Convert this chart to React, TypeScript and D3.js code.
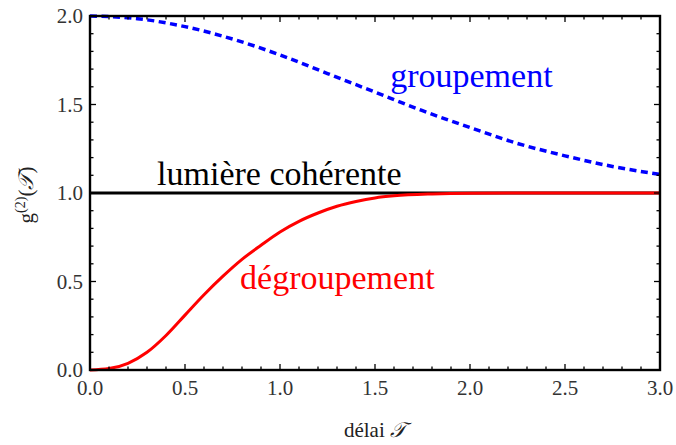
import React from "react";
import * as d3 from "d3";

// Data
const tBlue = [0, 0.25, 0.5, 0.75, 1.0, 1.25, 1.5, 1.75, 2.0, 2.25, 2.5, 2.75, 3.0];
const gBlue = [2.0, 1.985, 1.94, 1.87, 1.78, 1.675, 1.57, 1.465, 1.37, 1.28, 1.21, 1.15, 1.105];

const tRed = [0, 0.1, 0.2, 0.3, 0.4, 0.5, 0.6, 0.7, 0.8, 0.9, 1.0, 1.1, 1.2, 1.3, 1.4, 1.5, 1.6, 1.8, 2.0, 2.5, 3.0];
const gRed = [0, 0.008, 0.038, 0.1, 0.195, 0.31, 0.425, 0.53, 0.625, 0.705, 0.78, 0.84, 0.887, 0.925, 0.952, 0.972, 0.984, 0.995, 0.999, 1.0, 1.0];

const tBlack = [0, 3];
const gBlack = [1, 1];

const xTicks = [0, 0.5, 1.0, 1.5, 2.0, 2.5, 3.0];
const yTicks = [0, 0.5, 1.0, 1.5, 2.0];
const xMinor = d3.range(0, 3.0001, 0.1);
const yMinor = d3.range(0, 2.0001, 0.1);

const labelNames = ["groupement", "lumière cohérente", "dégroupement"];
const labelT = [1.58, 0.353, 0.79];
const labelG = [1.6, 1.045, 0.458];
const labelColors = ["#0000ff", "#000000", "#ff0000"];

const W = 676, H = 445;
const L = 90, R = 660, T = 16, B = 370;

const FONT = '"Liberation Serif", "Times New Roman", Times, "DejaVu Serif", serif';

export default function App() {
  const x = d3.scaleLinear().domain([0, 3]).range([L, R]);
  const y = d3.scaleLinear().domain([0, 2]).range([B, T]);
  const line = d3
    .line<[number, number]>()
    .x((d) => x(d[0]))
    .y((d) => y(d[1]))
    .curve(d3.curveMonotoneX);
  const blue = line(tBlue.map((t, i) => [t, gBlue[i]]))!;
  const red = line(tRed.map((t, i) => [t, gRed[i]]))!;
  const black = line(tBlack.map((t, i) => [t, gBlack[i]]))!;
  const isMajorX = (v: number) => xTicks.some((m) => Math.abs(m - v) < 1e-6);
  const isMajorY = (v: number) => yTicks.some((m) => Math.abs(m - v) < 1e-6);
  const ts = { fontFamily: FONT };

  return (
    <svg
      width={W}
      height={H}
      style={{ position: "fixed", left: 0, top: 0, background: "#fff", fontFamily: FONT }}
    >
      <rect x={0} y={0} width={W} height={H} fill="#fff" />
      <defs>
        <clipPath id="plot">
          <rect x={L} y={T - 2} width={R - L} height={B - T + 4} />
        </clipPath>
      </defs>
      <g clipPath="url(#plot)">
        <path d={black} fill="none" stroke="#000" strokeWidth={2.8} />
        <path d={red} fill="none" stroke="#ff0000" strokeWidth={3} />
        <path d={blue} fill="none" stroke="#0000ff" strokeWidth={3.5} strokeDasharray="7,4.5" />
      </g>
      {/* ticks */}
      {xMinor.map((v, i) => {
        const len = isMajorX(v) ? 6 : 3.5;
        return (
          <g key={"xt" + i} stroke="#000" strokeWidth={1.3}>
            <line x1={x(v)} x2={x(v)} y1={B} y2={B - len} />
            <line x1={x(v)} x2={x(v)} y1={T} y2={T + len} />
          </g>
        );
      })}
      {yMinor.map((v, i) => {
        const len = isMajorY(v) ? 6 : 3.5;
        return (
          <g key={"yt" + i} stroke="#000" strokeWidth={1.3}>
            <line x1={L} x2={L + len} y1={y(v)} y2={y(v)} />
            <line x1={R} x2={R - len} y1={y(v)} y2={y(v)} />
          </g>
        );
      })}
      <rect x={L} y={T} width={R - L} height={B - T} fill="none" stroke="#000" strokeWidth={2.4} />
      {/* tick labels */}
      {xTicks.map((v) => (
        <text key={"xl" + v} style={ts} x={x(v)} y={B + 25} fontSize={21} textAnchor="middle" fill="#333">
          {v.toFixed(1)}
        </text>
      ))}
      {yTicks.map((v) => (
        <text key={"yl" + v} style={ts} x={L - 7} y={y(v) + 7} fontSize={21} textAnchor="end" fill="#333">
          {v.toFixed(1)}
        </text>
      ))}
      {/* axis labels */}
      <text style={ts} x={(L + R) / 2} y={437} fontSize={21} textAnchor="middle" fill="#222">
        délai <tspan fontStyle="italic">𝒯</tspan>
      </text>
      <text style={ts} transform="translate(33,195) rotate(-90)" fontSize={21} textAnchor="middle" fill="#222">
        g<tspan fontSize={14} dy={-8}>(2)</tspan>
        <tspan dy={8}>(</tspan>
        <tspan fontStyle="italic">𝒯</tspan>)
      </text>
      {/* curve labels */}
      {labelNames.map((n, i) => (
        <text key={n} style={ts} x={x(labelT[i])} y={y(labelG[i])} fontSize={34} fill={labelColors[i]}>
          {n}
        </text>
      ))}
    </svg>
  );
}
